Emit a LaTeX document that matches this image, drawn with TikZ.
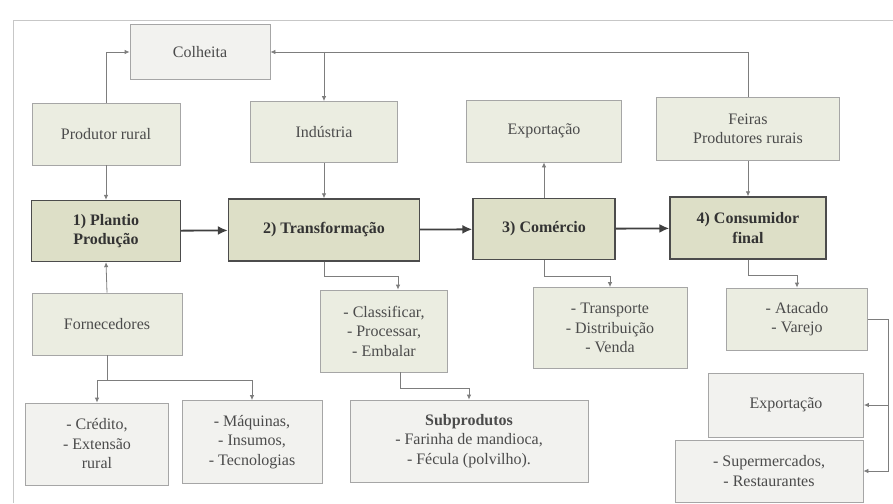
\documentclass[tikz,border=0pt]{standalone}
\usepackage{fontspec}
\setmainfont{Liberation Serif}
\usetikzlibrary{arrows.meta}
\definecolor{stagefill}{RGB}{221,223,199}
\definecolor{sidefill}{RGB}{235,237,225}
\definecolor{palefill}{RGB}{242,242,239}
\definecolor{linegray}{RGB}{125,125,125}
\definecolor{textgray}{RGB}{75,75,75}
\tikzset{
  stage/.style={draw=black!70, line width=1.4pt, fill=stagefill, align=center, inner sep=0pt,
    text=black!80, font=\bfseries\fontsize{16}{19.5}\selectfont},
  side/.style={draw=black!35, line width=0.8pt, fill=sidefill, align=center, inner sep=0pt,
    text=textgray, font=\fontsize{16}{19.5}\selectfont},
  pale/.style={side, fill=palefill},
  link/.style={draw=linegray, line width=0.8pt, ->},
  flow/.style={draw=black!75, line width=1.8pt, -{Latex[length=10pt,width=9pt]}}
}
\begin{document}
\begin{tikzpicture}[x=1pt, y=-1pt, >={Latex[length=5pt,width=4.5pt]}]
\useasboundingbox (0,0) rectangle (893,503);
\draw[black!22, line width=0.8pt] (13,503) |- (893,20);

\node[pale, minimum width=140pt, minimum height=55pt] (colh) at (200,52) {Colheita};

\node[side, minimum width=148pt, minimum height=62pt] (prod) at (106,134) {Produtor rural};
\node[side, minimum width=147pt, minimum height=61pt] (indu) at (324,132) {Indústria};
\node[side, minimum width=155pt, minimum height=62pt] (expo) at (544,131) {Exportação};
\node[side, minimum width=183pt, minimum height=63pt] (feir) at (748,129) {Feiras\\Produtores rurais};

\node[stage, minimum width=149pt, minimum height=61pt] (plan) at (106,231) {1) Plantio\\Produção};
\node[stage, minimum width=191pt, minimum height=62pt] (tran) at (324,230) {2) Transformação};
\node[stage, minimum width=142pt, minimum height=61pt] (comr) at (544,229) {3) Comércio};
\node[stage, minimum width=156pt, minimum height=62pt] (cons) at (748,228) {4) Consumidor\\final};

\node[side, minimum width=150pt, minimum height=62pt] (forn) at (107,324) {Fornecedores};
\node[side, minimum width=127pt, minimum height=82pt] (clas) at (384,331) {- Classificar,\\- Processar,\\- Embalar};
\node[side, minimum width=154pt, minimum height=81pt] (trsp) at (610,328) {- Transporte\\- Distribuição\\- Venda};
\node[side, minimum width=141pt, minimum height=62pt] (atac) at (797,319) {- Atacado\\- Varejo};

\node[pale, minimum width=143pt, minimum height=82pt] (cred) at (97,444) {- Crédito,\\- Extensão\\rural};
\node[pale, minimum width=140pt, minimum height=83pt] (maqu) at (252,442) {- Máquinas,\\- Insumos,\\- Tecnologias};
\node[pale, minimum width=238pt, minimum height=82pt] (subp) at (469,441) {\textbf{Subprodutos}\\- Farinha de mandioca,\\- Fécula (polvilho).};
\node[pale, minimum width=155pt, minimum height=64pt] (expb) at (786,405) {Exportação};
\node[pale, minimum width=188pt, minimum height=62pt] (supe) at (769,471) {- Supermercados,\\- Restaurantes};

\coordinate (fsplit) at (107,380);
\coordinate (rtrunk) at (888,318);

\draw[link] (prod.north) |- (colh.west);
\draw[link] (feir.north) |- (colh.east);
\draw[link] (indu.north |- colh.east) -- (indu.north);
\draw[link] (prod.south) -- (plan.north);
\draw[link] (indu.south) -- (tran.north);
\draw[link] (comr.north) -- (expo.south);
\draw[link] (feir.south) -- (cons.north);

\draw[flow] (plan) -- (tran);
\draw[flow] (tran) -- (comr);
\draw[flow] (comr) -- (cons);

\draw[link] (forn.north) -- (plan.south);
\draw[link] (forn.south) -- (fsplit) -| (cred.north);
\draw[link] (fsplit) -| (maqu.north);
\draw[link] (tran.south) -- ++(0,15) -| ([xshift=14pt]clas.north);
\draw[link] ([xshift=16pt]clas.south) -- ++(0,16) -| (subp.north);
\draw[link] (comr.south) -- ++(0,16) -| (trsp.north);
\draw[link] (cons.south) -- ++(0,16) -| (atac.north);
\draw[link] (atac.east) -- (atac.east -| rtrunk) |- (supe.east);
\draw[link] (rtrunk |- expb.east) -- (expb.east);
\end{tikzpicture}
\end{document}
